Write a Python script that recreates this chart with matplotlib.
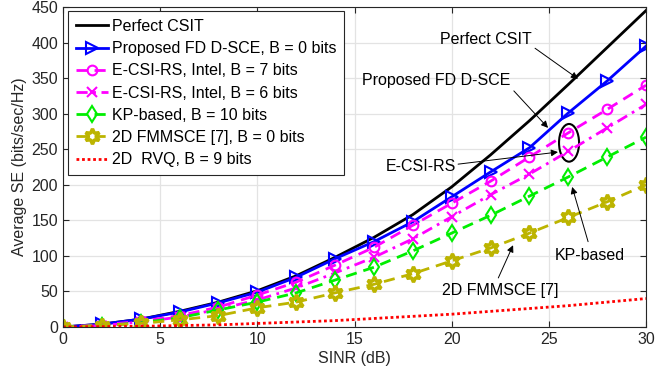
import matplotlib
matplotlib.use("Agg")
import matplotlib.pyplot as plt
from matplotlib.patches import Ellipse
import numpy as np

plt.rcParams['font.family'] = ['Liberation Sans', 'DejaVu Sans']

sinr = [0, 2, 4, 6, 8, 10, 12, 14, 16, 18, 20, 22, 24, 26, 28, 30]
perfect = [0, 4, 11, 22, 35, 51, 72, 98, 126, 158, 197, 242, 290, 341, 393, 445]
proposed = [0, 4, 11, 21, 34, 49, 70, 96, 120, 148, 183, 218, 252, 301, 346, 395]
ecsi7 = [0, 3, 8, 16, 28, 45, 63, 87, 112, 143, 174, 205, 239, 273, 306, 340]
ecsi6 = [0, 2, 7, 14, 25, 38, 55, 76, 98, 124, 155, 186, 215, 247, 280, 313]
kp = [0, 2, 6, 13, 24, 35, 48, 66, 84, 107, 132, 157, 184, 211, 239, 267]
fmmsce = [0, 2, 5, 10, 16, 27, 35, 48, 60, 75, 93, 111, 132, 154, 176, 200]
rvq = [0, 0.5, 1, 2, 3, 5, 7, 9, 12, 15, 18, 22, 26, 30, 35, 40]

labels = ['Perfect CSIT', 'Proposed FD D-SCE, B = 0 bits', 'E-CSI-RS, Intel, B = 7 bits',
          'E-CSI-RS, Intel, B = 6 bits', 'KP-based, B = 10 bits',
          '2D FMMSCE [7], B = 0 bits', '2D  RVQ, B = 9 bits']

yel = '#bcb400'
fs = 11.5
fig = plt.figure(figsize=(6.68, 3.77), dpi=100)
ax = fig.add_axes([63/668, 1-327/377, 583/668, 320/377])

ax.plot(sinr, perfect, color='k', lw=2, label=labels[0])
ax.plot(sinr, proposed, color='#0000ff', lw=2, marker='>', ms=8, mfc='none', mew=1.5, label=labels[1])
ax.plot(sinr, ecsi7, color='#ff00ff', lw=2, ls=(0, (4, 2.5)), marker='o', ms=7, mfc='none', mew=1.5, label=labels[2])
ax.plot(sinr, ecsi6, color='#ff00ff', lw=2, ls=(0, (4, 2, 1, 2)), marker='x', ms=7, mew=1.5, label=labels[3])
ax.plot(sinr, kp, color='#00ee00', lw=2, ls=(0, (4, 2.5)), marker='d', ms=8, mfc='none', mew=1.5, label=labels[4])
ax.plot(sinr, fmmsce, color=yel, lw=2, ls=(0, (4, 2.5)), marker=(6, 1, 0), ms=11, mfc='none', mew=2.5, label=labels[5])
ax.plot(sinr, rvq, color='#ff0000', lw=2, ls=(0, (1, 1)), label=labels[6])

ax.set_xlim(0, 30)
ax.set_ylim(0, 450)
ax.set_xticks(range(0, 31, 5))
ax.set_yticks(range(0, 451, 50))
ax.grid(True, color='#e3e3e3', lw=0.9)
ax.set_axisbelow(True)
ax.tick_params(direction='in', labelsize=fs, colors='#262626', length=4, top=True, right=True)
for s in ax.spines.values():
    s.set_color('#262626')
ax.set_xlabel('SINR (dB)', fontsize=fs, color='#262626', labelpad=3)
ax.set_ylabel('Average SE (bits/sec/Hz)', fontsize=fs, color='#262626', labelpad=3)

leg = ax.legend(loc='upper left', bbox_to_anchor=(5/583, 1-4/320), borderaxespad=0,
                fontsize=fs, handlelength=2.0, handletextpad=0.25, borderpad=0.5,
                labelspacing=0.45, fancybox=False, framealpha=1, edgecolor='#262626')
leg.get_frame().set_linewidth(0.8)

ap = dict(arrowstyle='-|>', color='k', lw=0.7, mutation_scale=10, shrinkA=0, shrinkB=0)
ax.annotate('', xy=(26.5, 349), xytext=(24.29, 392), arrowprops=ap)
ax.text(21.77, 405, 'Perfect CSIT', ha='center', va='center', fontsize=fs)
ax.annotate('', xy=(24.96, 280), xytext=(23.2, 332), arrowprops=ap)
ax.text(19.19, 346, 'Proposed FD D-SCE', ha='center', va='center', fontsize=fs)
ax.annotate('', xy=(25.47, 246), xytext=(20.33, 229), arrowprops=ap)
ax.text(18.42, 226, 'E-CSI-RS', ha='center', va='center', fontsize=fs)
ax.add_patch(Ellipse((26.04, 259), 1.03, 53, fill=False, ec='k', lw=1.5))
ax.annotate('', xy=(26.2, 197), xytext=(27.02, 120), arrowprops=ap)
ax.text(27.12, 101, 'KP-based', ha='center', va='center', fontsize=fs)
ax.annotate('', xy=(23.16, 115), xytext=(22.4, 69), arrowprops=ap)
ax.text(22.49, 52, '2D FMMSCE [7]', ha='center', va='center', fontsize=fs)

fig.savefig('out.png', dpi=100)
